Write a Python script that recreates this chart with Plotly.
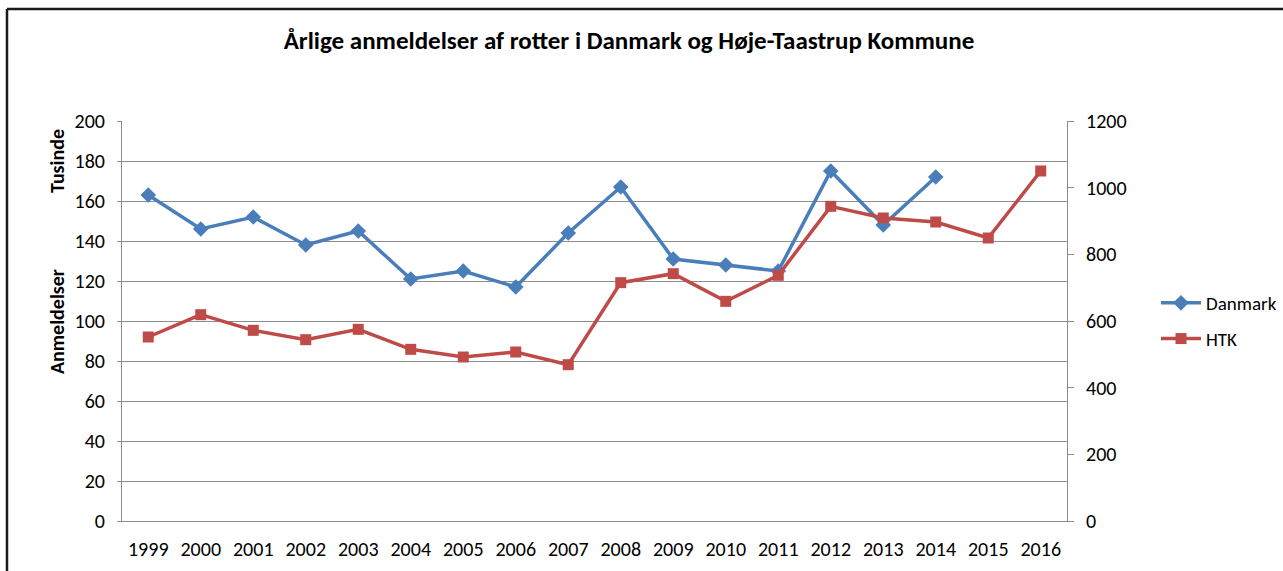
import plotly.graph_objects as go

years = [str(y) for y in range(1999, 2017)]
danmark = [163, 146, 152, 138, 145, 121, 125, 117, 144, 167, 131, 128, 125, 175, 148, 172, None, None]
htk = [552, 619, 572, 544, 575, 515, 492, 507, 469, 715, 742, 659, 737, 944, 909, 897, 849, 1050]

left_ticks = list(range(0, 201, 20))
right_ticks = list(range(0, 1201, 200))

W, H = 1283, 571
L, R, T, B = 122, 1067, 121, 521

FONT = "Carlito, Lato, sans-serif"
BLUE = "#4A7EBB"
RED = "#BE4B48"
GRID = "#8C8C8C"

fig = go.Figure()
fig.add_trace(go.Scatter(
    x=years, y=danmark, name="Danmark", mode="lines+markers",
    line=dict(color=BLUE, width=3.5),
    marker=dict(symbol="diamond", size=12, color=BLUE),
    yaxis="y", connectgaps=False, legendgroup="a",
))
fig.add_trace(go.Scatter(
    x=years, y=htk, name="HTK", mode="lines+markers",
    line=dict(color=RED, width=3.5),
    marker=dict(symbol="square", size=11, color=RED),
    yaxis="y2", legendgroup="b",
))

def px_x(p):
    return (p - L) / (R - L)

def px_y(p):
    return (B - p) / (B - T)

TICK = 20

fig.update_layout(
    width=W, height=H,
    margin=dict(l=L, r=W - R, t=T, b=H - B, pad=0, autoexpand=False),
    paper_bgcolor="white", plot_bgcolor="white",
    font=dict(family=FONT, size=TICK, color="#000000"),
    showlegend=True,
    legend=dict(
        xref="container", yref="container",
        x=1156 / W, y=1 - 321 / H, xanchor="left", yanchor="middle",
        font=dict(size=19, family=FONT), bgcolor="rgba(0,0,0,0)",
        itemwidth=40, tracegroupgap=8,
    ),
    title=dict(
        text="<b>Årlige anmeldelser af rotter i Danmark og Høje-Taastrup Kommune</b>",
        x=629 / W, xref="container", xanchor="center", y=1 - 40 / H, yanchor="middle",
        font=dict(size=25, family=FONT, color="#000000"),
    ),
    xaxis=dict(
        type="category", range=[-0.5, 17.5],
        showgrid=False, showline=True, linecolor=GRID, linewidth=1,
        ticks="", tickfont=dict(size=TICK), ticklabelstandoff=10,
        mirror=False, zeroline=False, fixedrange=True,
    ),
    yaxis=dict(
        range=[0, 200], tickvals=left_ticks, showgrid=True, gridcolor=GRID, gridwidth=1,
        showline=True, linecolor=GRID, linewidth=1, ticks="outside", ticklen=4,
        tickcolor=GRID, tickfont=dict(size=TICK), zeroline=False, ticklabelstandoff=8,
    ),
    yaxis2=dict(
        range=[0, 1200], tickvals=right_ticks, overlaying="y", side="right",
        showgrid=False, showline=True, linecolor=GRID, linewidth=1,
        ticks="outside", ticklen=6, tickcolor=GRID, tickfont=dict(size=TICK),
        zeroline=False, ticklabelstandoff=8,
    ),
)

fig.add_annotation(
    text="<b>Tusinde</b>", xref="paper", yref="paper",
    x=px_x(57), y=px_y(161), textangle=-90, showarrow=False,
    font=dict(size=20, family=FONT), xanchor="center", yanchor="middle",
)
fig.add_annotation(
    text="<b>Anmeldelser</b>", xref="paper", yref="paper",
    x=px_x(57), y=px_y(322), textangle=-90, showarrow=False,
    font=dict(size=20, family=FONT), xanchor="center", yanchor="middle",
)

# outer chart border (top and left edges visible)
fig.add_shape(type="line", xref="paper", yref="paper",
              x0=px_x(7), x1=px_x(1290), y0=px_y(9), y1=px_y(9),
              line=dict(color="#1a1a1a", width=2.5))
fig.add_shape(type="line", xref="paper", yref="paper",
              x0=px_x(7), x1=px_x(7), y0=px_y(9), y1=px_y(580),
              line=dict(color="#1a1a1a", width=2.5))

fig.write_html(
    "out.html",
    config={"displayModeBar": False},
    post_script="document.documentElement.style.margin='0';document.body.style.margin='0';"
                "document.body.style.overflow='hidden';",
)
